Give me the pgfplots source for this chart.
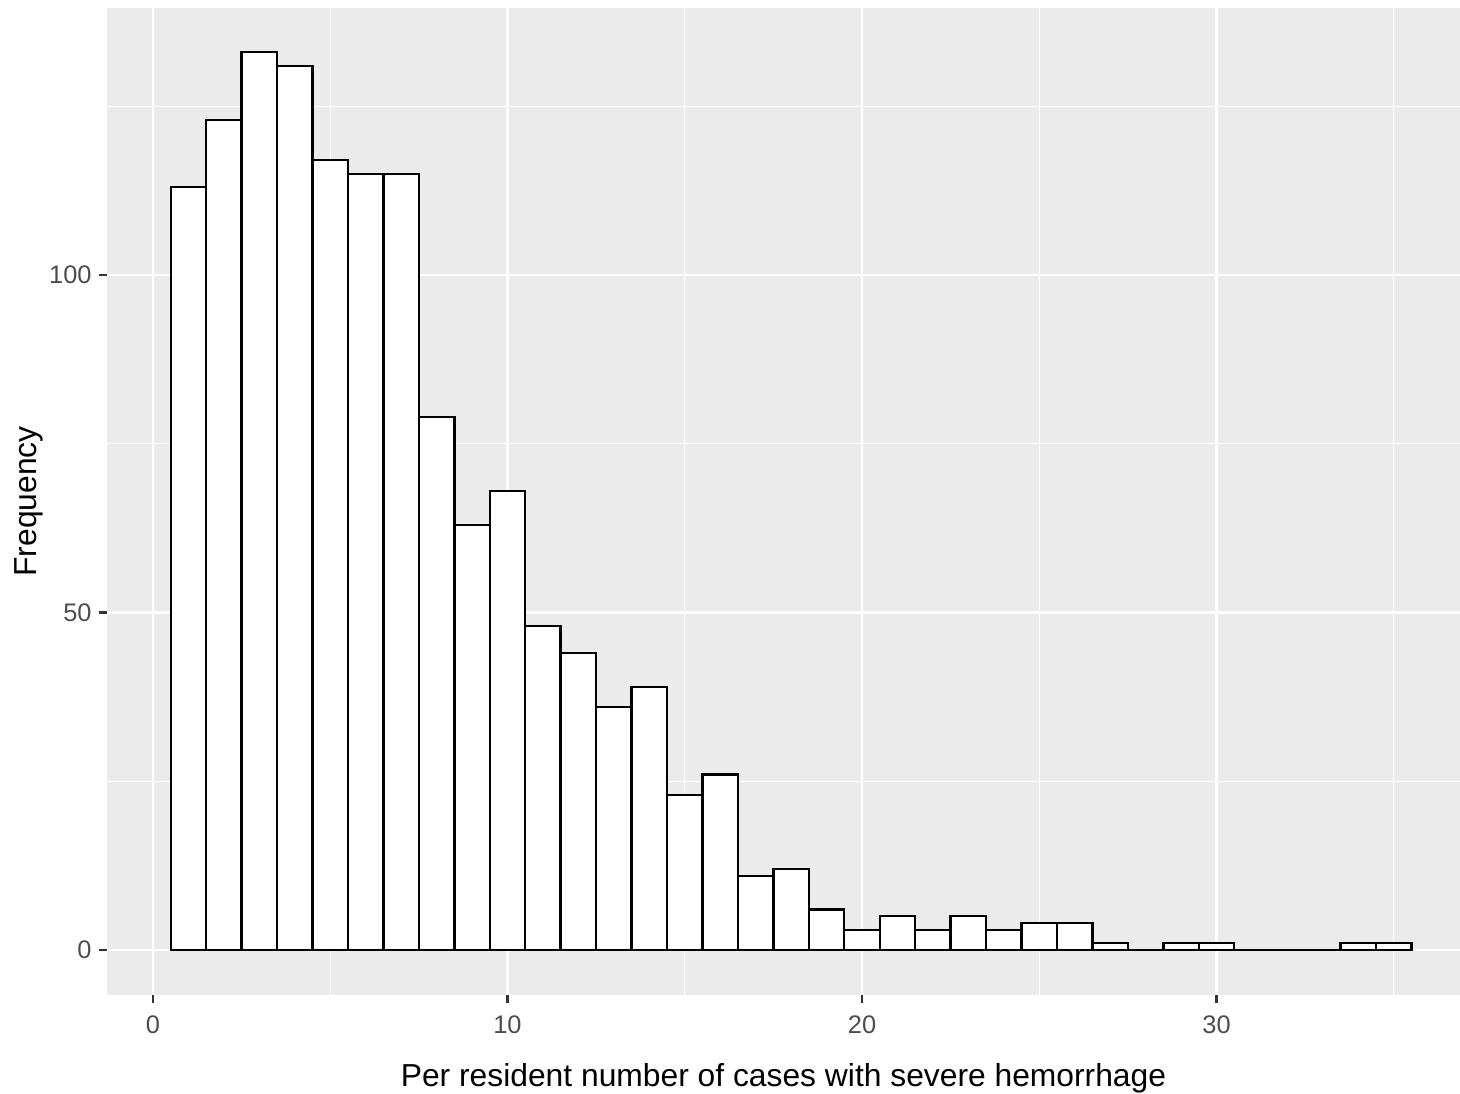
\documentclass[border=0pt]{standalone}
\usepackage{fontspec}
\setmainfont{Liberation Sans}
\usepackage{pgfplots}
\pgfplotsset{compat=1.18}

\definecolor{panel}{HTML}{EBEBEB}
\definecolor{ticktext}{HTML}{4D4D4D}
\definecolor{tickmark}{HTML}{333333}

\begin{document}
\begin{tikzpicture}
\begin{axis}[
  at={(0,0)}, anchor=south west,
  scale only axis,
  width=676.5pt, height=493.5pt,
  xmin=-1.2976, xmax=36.869,
  ymin=-6.67, ymax=139.56,
  axis background/.style={fill=panel},
  axis line style={draw=none},
  xtick={0,10,20,30}, ytick={0,50,100},
  minor xtick={5,15,25,35}, minor ytick={25,75,125},
  grid=both,
  major grid style={white, line width=1.1pt},
  minor grid style={white, line width=0.55pt},
  tick align=outside,
  xtick pos=bottom, ytick pos=left,
  major tick length=4pt, minor tick length=0pt,
  tick style={tickmark, line width=1.1pt},
  /pgf/number format/assume math mode=true,
  ticklabel style={font=\fontsize{12.7}{14}\selectfont, text=ticktext, inner sep=0pt},
  xticklabel style={anchor=north, yshift=-6pt},
  yticklabel style={anchor=east, xshift=-3.5pt},
  xlabel={Per resident number of cases with severe hemorrhage},
  ylabel={Frequency},
  label style={font=\fontsize{15.9}{18}\selectfont},
  xlabel style={at={([yshift=-45.5pt]axis description cs:0.5,0)}, anchor=base},
  ylabel style={at={([xshift=-35pt]axis description cs:0,0.5)}, anchor=base},
]
\addplot[ybar interval, fill=white, draw=black, line width=1.2pt] coordinates {
  (0.5,113) (1.5,123) (2.5,133) (3.5,131) (4.5,117) (5.5,115) (6.5,115)
  (7.5,79) (8.5,63) (9.5,68) (10.5,48) (11.5,44) (12.5,36) (13.5,39)
  (14.5,23) (15.5,26) (16.5,11) (17.5,12) (18.5,6) (19.5,3) (20.5,5)
  (21.5,3) (22.5,5) (23.5,3) (24.5,4) (25.5,4) (26.5,1) (27.5,0)
  (28.5,1) (29.5,1) (30.5,0) (31.5,0) (32.5,0) (33.5,1) (34.5,1)
  (35.5,1)
};
\end{axis}
\pgfresetboundingbox
\path[use as bounding box] (-53.5pt,-49pt) rectangle (676.5pt,497.5pt);
\end{tikzpicture}
\end{document}
